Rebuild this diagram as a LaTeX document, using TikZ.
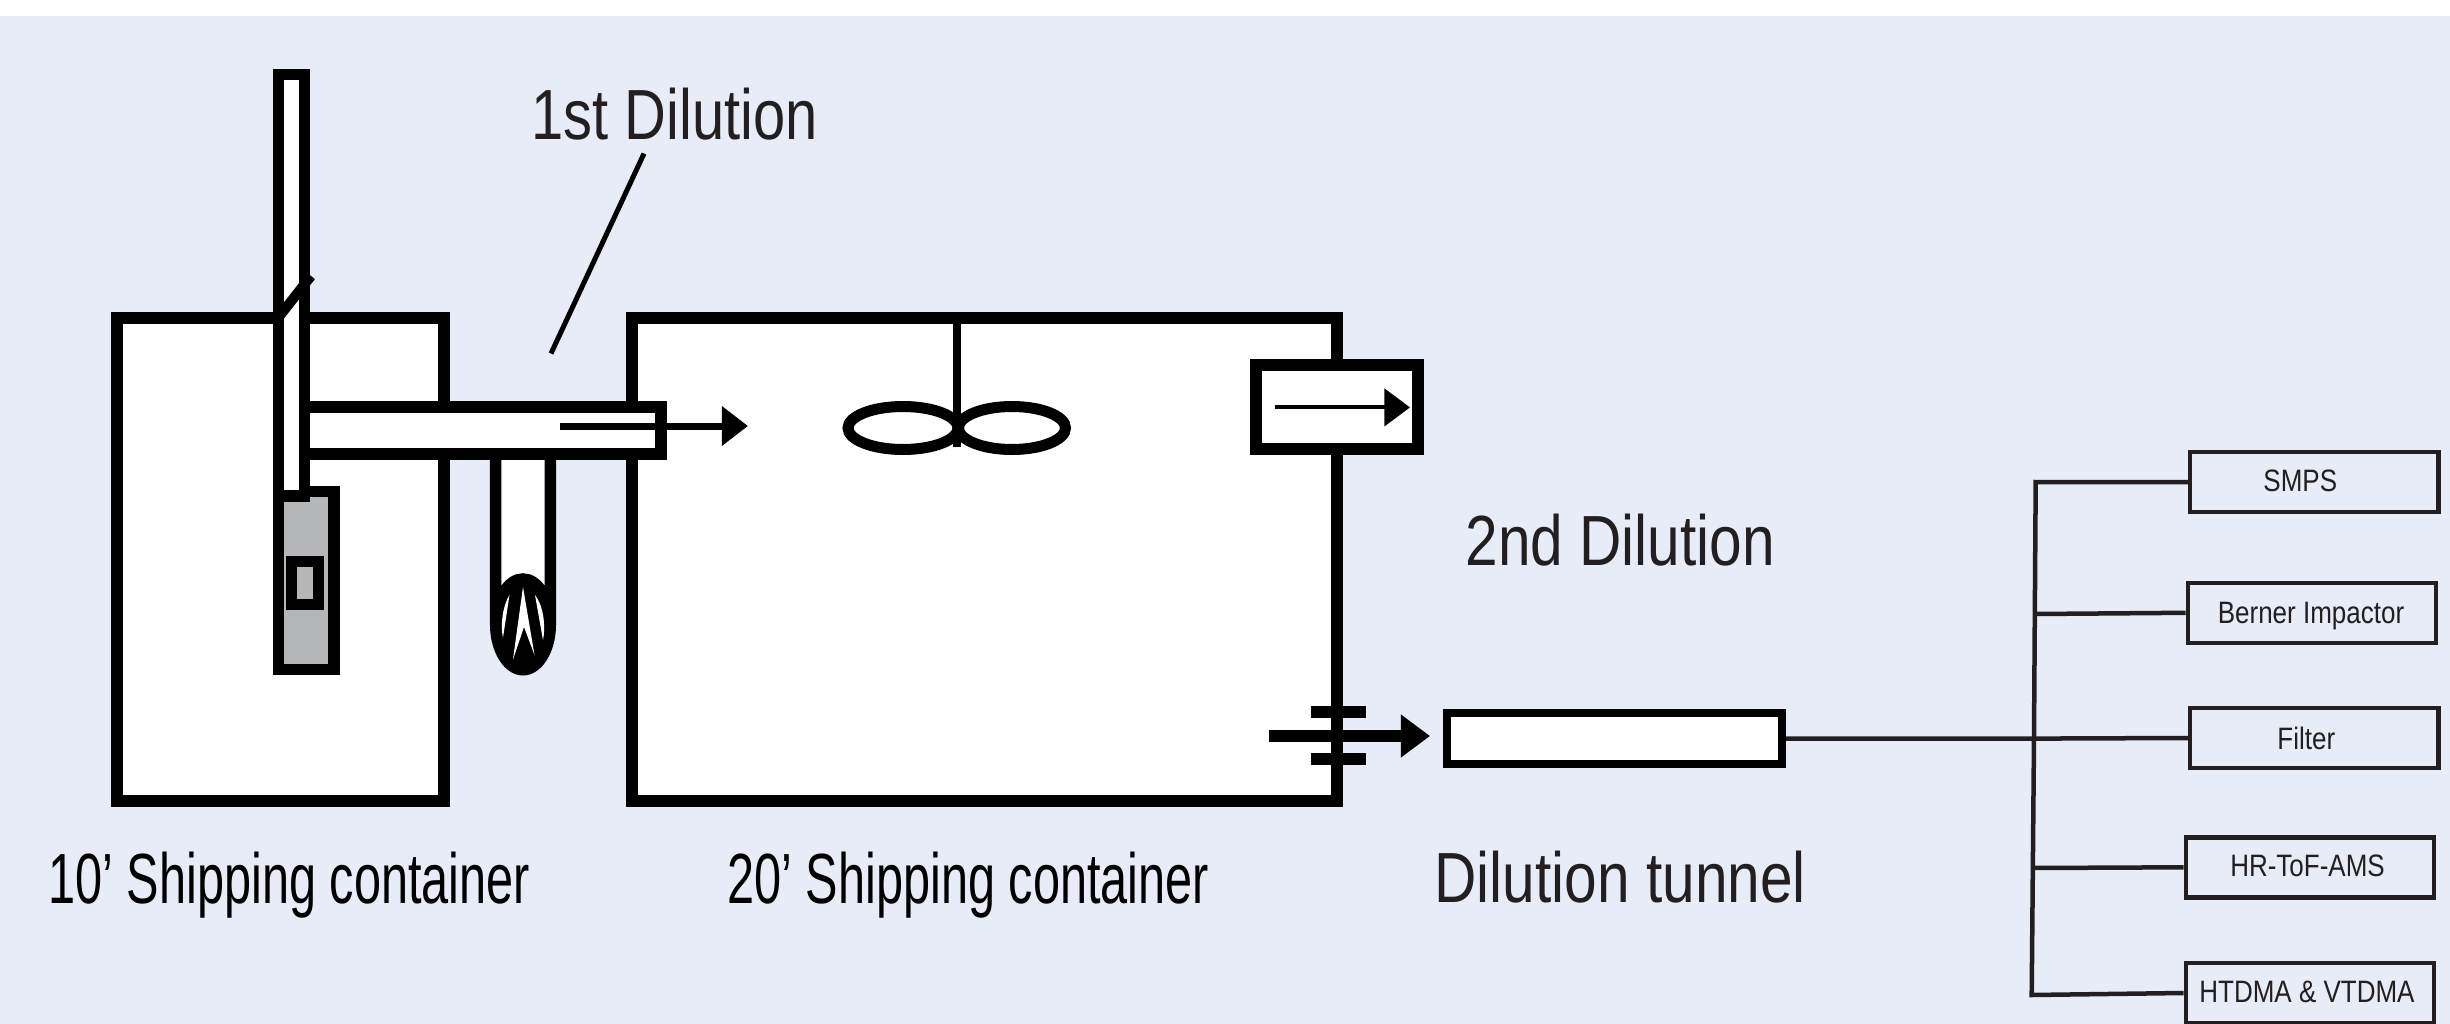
\documentclass[tikz,border=0pt]{standalone}
\usepackage{fontspec}
\setmainfont{Liberation Sans}
\usepackage{graphicx}
\usepackage{xcolor}
\usepackage{tikz}
\usetikzlibrary{arrows.meta}
\definecolor{backg}{HTML}{E8ECF7}
\definecolor{ink}{HTML}{231F20}
\definecolor{housing}{HTML}{B5B6B8}
\newcommand{\ilab}[2]{\hspace*{#1}\scalebox{.84}[1]{#2}}
\tikzset{
  wall/.style={line width=0.12cm, draw=black, fill=white},
  pipe/.style={line width=0.115cm, draw=black, fill=white},
  wire/.style={line width=0.045cm, draw=ink},
  inst/.style={line width=0.045cm, draw=ink, minimum width=2.48cm, minimum height=0.6cm,
    inner sep=0pt, text=ink, text height=0.22cm, text depth=0pt, font=\fontsize{8.8pt}{10pt}\selectfont},
  lab/.style={anchor=base west, inner sep=0pt, text=ink, font=\fontsize{20.2pt}{24pt}\selectfont,
    xscale=#1, transform shape},
}

\begin{document}
\begin{tikzpicture}[x=0.01cm, y=-0.01cm]
  \useasboundingbox (0,0) rectangle (2450,1024);
  \fill[white] (0,0) rectangle (2450,1024);
  \fill[backg] (0,16) rectangle (2450,1024);

  % containers
  \draw[wall] (117,318) rectangle (444,800.5);
  \draw[wall] (631.5,318) rectangle (1336.5,800.5);

  % flue and housing
  \draw[pipe, fill=housing] (278.7,491.5) rectangle (334,669.5);
  \draw[line width=0.11cm, draw=black, fill=housing] (291.7,561.5) rectangle (318.3,604.5);
  \draw[pipe] (278.7,74.5) rectangle (304.5,496);
  \draw[line width=0.10cm] (279,316.7) -- (311,276);

  % burner below the transfer line
  \draw[pipe] (495.7,448) -- (495.7,625) arc[start angle=180, end angle=0, x radius=27.3, y radius=-46] -- (550.3,448);
  \fill[black] (523,625) ellipse [x radius=33, y radius=50.5];
  \fill[white] (523,587) -- (534.5,655) -- (524,627) -- (513,659.5) -- cycle;
  \fill[white] (509.5,595) -- (503,637.6) .. controls (500,625) and (503,605) .. cycle;
  \fill[white] (535,595) -- (543,640) .. controls (546,625) and (543,605) .. cycle;

  % transfer line
  \fill[black] (299,401) rectangle (667,460);
  \fill[white] (310,412.5) rectangle (655,448);
  \draw[line width=0.07cm, -{Triangle[length=0.26cm, width=0.38cm]}] (559.5,426) -- (748,426);

  % stirrer
  \draw[line width=0.08cm] (957,324) -- (957,447);
  \draw[line width=0.11cm] (903,428) ellipse [x radius=55, y radius=21.5];
  \draw[line width=0.11cm] (1012,428) ellipse [x radius=53.5, y radius=21.5];

  % outlet
  \draw[pipe] (1256,365) rectangle (1418,449);
  \draw[line width=0.04cm, -{Triangle[length=0.255cm, width=0.37cm]}] (1275,407.4) -- (1410,407.4);

  % port in the wall
  \fill[black] (1311,706) rectangle (1366,717.7);
  \fill[black] (1311,753) rectangle (1366,764.5);
  \draw[line width=0.12cm, -{Triangle[length=0.29cm, width=0.41cm]}] (1269,736) -- (1430,736);

  % callout
  \coordinate (calltop) at (644,153.6);
  \coordinate (callend) at (551,353.5);
  \draw[line width=0.05cm] (calltop) -- (callend);

  % tunnel and instruments
  \node[draw=black, line width=0.08cm, fill=white, minimum width=3.35cm, minimum height=0.505cm, inner sep=0pt] (tunnel) at (1614.5,738.7) {};
  \node[inst, text depth=0.04cm] (smps) at (2314.3,482.2) {\ilab{-0.28cm}{SMPS}};
  \node[inst] (berner) at (2312,612.8) {\ilab{-0.02cm}{Berner Impactor}};
  \node[inst] (filter) at (2314.3,738) {\ilab{-0.16cm}{Filter}};
  \node[inst, text depth=0.04cm] (hrtof) at (2310,867.3) {\ilab{-0.05cm}{HR-ToF-AMS}};
  \node[inst, text depth=0.04cm] (htdma) at (2310,993) {\ilab{-0.06cm}{HTDMA \& VTDMA}};

  \coordinate (juncs) at (2035.7,482);
  \coordinate (juncb) at (2035,614);
  \coordinate (juncf) at (2034,738.6);
  \coordinate (junch) at (2033,868);
  \coordinate (junct) at (2031.7,995);

  \draw[wire] (tunnel.east) -- (juncf) -- (filter.west);
  \draw[wire] (smps.west) -- (juncs) -- (juncf) -- (junct) -- (htdma.west);
  \draw[wire] (juncb) -- (berner.west);
  \draw[wire] (junch) -- (hrtof.west);

  % labels
  \node[lab=.815] (first) at (531,139) {1st Dilution};
  \node[lab=.825] (second) at (1465,565) {2nd Dilution};
  \node[lab=.825] (tunnellab) at (1434,902) {Dilution tunnel};
  \node[lab=.685, text=black] (tenft) at (48,903) {10’ Shipping container};
  \node[lab=.685, text=black] (twentyft) at (727,903) {20’ Shipping container};
\end{tikzpicture}
\end{document}
